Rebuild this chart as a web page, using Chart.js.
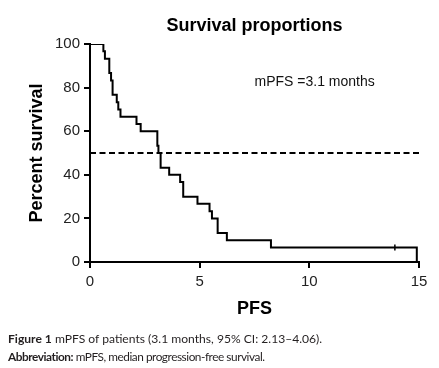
<!DOCTYPE html>
<html>
<head>
<meta charset="utf-8">
<script src="https://cdn.jsdelivr.net/npm/chart.js@4/dist/chart.umd.min.js"></script>
<style>
  html, body { margin: 0; padding: 0; background: #fff; }
  #wrap { position: relative; width: 439px; height: 368px; }
  #survChart { position: absolute; left: 0; top: 0; }
  .caption {
    position: absolute; left: 8px; font-family: Lato, "Open Sans", sans-serif;
    color: #231f20; white-space: nowrap;
  }
  .caption b { font-weight: 700; }
</style>
</head>
<body>
<div id="wrap">
  <canvas id="survChart" width="439" height="368"></canvas>
  <div class="caption" style="top:331px; font-size:12.1px"><b>Figure 1</b> mPFS of patients (3.1 months, 95% CI: 2.13–4.06).</div>
  <div class="caption" style="top:349px; font-size:11.8px; letter-spacing:-0.45px"><b>Abbreviation:</b> mPFS, median progression-free survival.</div>
</div>
<script>
// PFS in months at each event, and percent surviving after it
const eventTimes = [0, 0.61, 0.68, 0.88, 0.96, 1.03, 1.22, 1.29, 1.39, 2.12, 2.31, 3.07, 3.12, 3.22, 3.61, 4.11, 4.25, 4.9, 5.45, 5.56, 5.82, 6.24, 8.25, 14.9];
const survival = [100, 96.7, 93.3, 86.7, 83.3, 76.7, 73.3, 70, 66.7, 63.3, 60, 53.3, 50, 43.3, 40, 36.7, 30, 26.7, 23.3, 20, 13.3, 10, 6.7, 0];
const censorTimes = [13.9];
const censorValues = [6.7];
const medianLineX = [0, 15];
const medianLineY = [50, 50];
const xTicks = [0, 5, 10, 15];
const yTicks = [0, 20, 40, 60, 80, 100];
const noteText = "mPFS =3.1 months";
const notePos = [7.5, 82.5]; // in data units

const toPoints = (xs, ys) => xs.map((x, i) => ({ x: x, y: ys[i] }));

const notePlugin = {
  id: "note",
  afterDatasetsDraw(chart) {
    const ctx = chart.ctx;
    const x = chart.scales.x.getPixelForValue(notePos[0]);
    const y = chart.scales.y.getPixelForValue(notePos[1]);
    ctx.save();
    ctx.font = "14px 'Liberation Sans', Arial, sans-serif";
    ctx.fillStyle = "#111";
    ctx.textAlign = "left";
    ctx.textBaseline = "middle";
    ctx.fillText(noteText, x, y);
    ctx.restore();
  }
};

const axisFont = { family: "'Liberation Sans', Arial, sans-serif", size: 15 };
const titleFont = { family: "'Liberation Sans', Arial, sans-serif", size: 18, weight: "bold" };

new Chart("survChart", {
  type: "line",
  data: {
    datasets: [
      {
        data: toPoints(eventTimes, survival),
        stepped: "before",
        borderColor: "#000",
        borderWidth: 2,
        pointRadius: 0,
        fill: false
      },
      {
        data: toPoints(medianLineX, medianLineY),
        borderColor: "#000",
        borderWidth: 2,
        borderDash: [6, 3.5],
        pointRadius: 0,
        fill: false
      },
      {
        data: toPoints(censorTimes, censorValues),
        showLine: false,
        pointStyle: "line",
        rotation: 90,
        pointRadius: 3,
        borderColor: "#000",
        borderWidth: 1.5
      }
    ]
  },
  options: {
    responsive: false,
    animation: false,
    layout: { padding: { left: 26, right: 20, top: 0, bottom: 48 } },
    plugins: {
      legend: { display: false },
      tooltip: { enabled: false },
      title: {
        display: true,
        text: "Survival proportions",
        fullSize: false,
        color: "#000",
        font: titleFont,
        padding: { top: 15.5, bottom: 7 }
      }
    },
    scales: {
      x: {
        type: "linear",
        min: 0,
        max: 15,
        afterFit: (s) => { s.height = 58; },
        afterBuildTicks: (s) => { s.ticks = xTicks.map((v) => ({ value: v })); },
        ticks: { color: "#222", font: axisFont, padding: 5 },
        grid: { drawOnChartArea: false, drawTicks: true, tickLength: 6, color: "#000", lineWidth: 2 },
        border: { color: "#000", width: 2 },
        title: { display: true, text: "PFS", color: "#000", font: titleFont, padding: 0 }
      },
      y: {
        min: 0,
        max: 100,
        afterFit: (s) => { s.width = 64; },
        afterBuildTicks: (s) => { s.ticks = yTicks.map((v) => ({ value: v })); },
        ticks: { color: "#222", font: axisFont, padding: 4 },
        grid: { drawOnChartArea: false, drawTicks: true, tickLength: 6, color: "#000", lineWidth: 2 },
        border: { color: "#000", width: 2 },
        title: { display: true, text: "Percent survival", color: "#000", font: titleFont, padding: 0 }
      }
    }
  },
  plugins: [notePlugin]
});
</script>
</body>
</html>
